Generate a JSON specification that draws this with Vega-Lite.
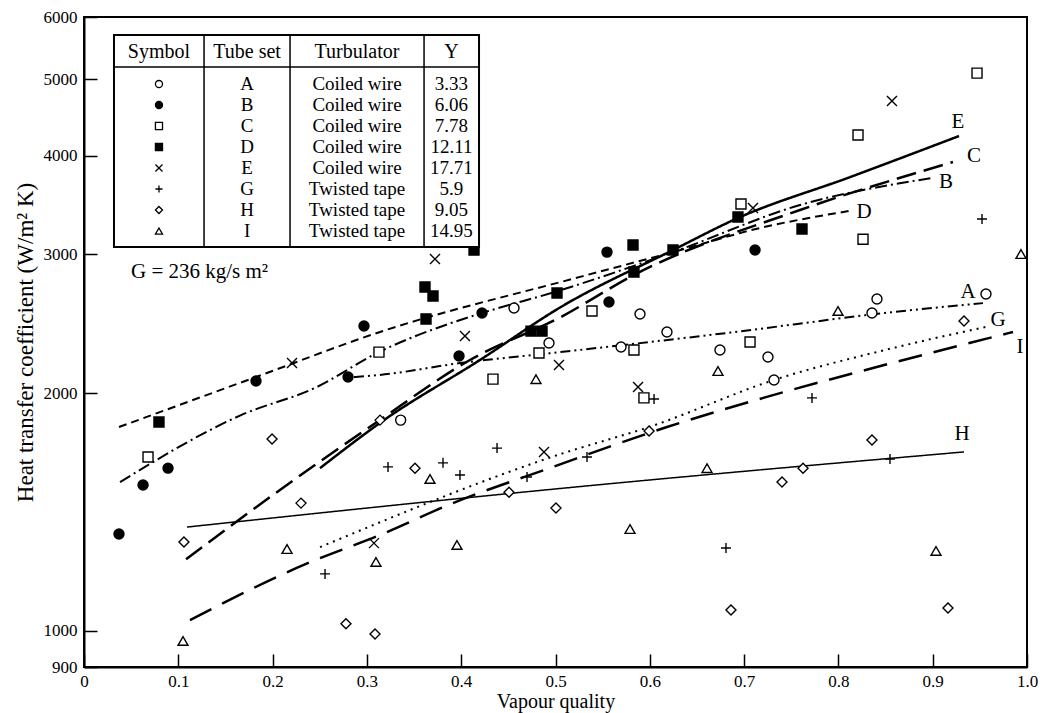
{
  "$schema": "https://vega.github.io/schema/vega-lite/v6.json",
  "width": 943,
  "height": 650,
  "autosize": {"type": "none"},
  "padding": {"left": 84, "top": 17, "right": 17, "bottom": 46},
  "background": "white",
  "config": {
    "view": {"stroke": "black", "strokeWidth": 2},
    "font": "Liberation Serif",
    "axis": {
      "domainColor": "black", "domainWidth": 2,
      "tickColor": "black", "tickWidth": 1.5,
      "labelColor": "black", "titleColor": "black",
      "labelFont": "Liberation Serif", "titleFont": "Liberation Serif",
      "titleFontWeight": "normal", "labelFontSize": 17, "titleFontSize": 22,
      "grid": false, "labelFlush": false, "labelOverlap": false
    },
    "text": {"font": "Liberation Serif", "color": "black"}
  },
  "datasets": {
    "points": [
      {"s":"A","x":0.3358,"y":1850},{"s":"A","x":0.456,"y":2566},{"s":"A","x":0.4931,"y":2317},{"s":"A","x":0.5695,"y":2290},{"s":"A","x":0.5896,"y":2522},{"s":"A","x":0.6182,"y":2393},{"s":"A","x":0.6744,"y":2270},{"s":"A","x":0.7253,"y":2224},{"s":"A","x":0.7317,"y":2080},{"s":"A","x":0.8356,"y":2529},{"s":"A","x":0.8409,"y":2634},{"s":"A","x":0.9565,"y":2673},
      {"s":"B","x":0.0371,"y":1327},{"s":"B","x":0.0626,"y":1531},{"s":"B","x":0.0891,"y":1608},{"s":"B","x":0.1824,"y":2074},{"s":"B","x":0.28,"y":2098},{"s":"B","x":0.2969,"y":2435},{"s":"B","x":0.3977,"y":2231},{"s":"B","x":0.4221,"y":2529},{"s":"B","x":0.5567,"y":2611},{"s":"B","x":0.5546,"y":3021},{"s":"B","x":0.7116,"y":3039},
      {"s":"C","x":0.0679,"y":1661},{"s":"C","x":0.3128,"y":2256},{"s":"C","x":0.4337,"y":2085},{"s":"C","x":0.4825,"y":2250},{"s":"C","x":0.5387,"y":2544},{"s":"C","x":0.5832,"y":2270},{"s":"C","x":0.5938,"y":1974},{"s":"C","x":0.7063,"y":2324},{"s":"C","x":0.6967,"y":3476},{"s":"C","x":0.8208,"y":4252},{"s":"C","x":0.8261,"y":3137},{"s":"C","x":0.947,"y":5094},
      {"s":"D","x":0.0795,"y":1840},{"s":"D","x":0.3616,"y":2728},{"s":"D","x":0.3701,"y":2658},{"s":"D","x":0.3627,"y":2485},{"s":"D","x":0.4136,"y":3039},{"s":"D","x":0.474,"y":2399},{"s":"D","x":0.4857,"y":2399},{"s":"D","x":0.5016,"y":2681},{"s":"D","x":0.5822,"y":3084},{"s":"D","x":0.5832,"y":2850},{"s":"D","x":0.6246,"y":3039},{"s":"D","x":0.6935,"y":3347},{"s":"D","x":0.7614,"y":3232},
      {"s":"E","x":0.2206,"y":2185},{"s":"E","x":0.3075,"y":1292},{"s":"E","x":0.3722,"y":2960},{"s":"E","x":0.404,"y":2365},{"s":"E","x":0.4878,"y":1686},{"s":"E","x":0.5037,"y":2173},{"s":"E","x":0.5875,"y":2038},{"s":"E","x":0.7094,"y":3435},{"s":"E","x":0.8568,"y":4695},
      {"s":"G","x":0.2556,"y":1181},{"s":"G","x":0.3224,"y":1614},{"s":"G","x":0.3807,"y":1633},{"s":"G","x":0.3987,"y":1576},{"s":"G","x":0.438,"y":1705},{"s":"G","x":0.4698,"y":1567},{"s":"G","x":0.5334,"y":1661},{"s":"G","x":0.6045,"y":1968},{"s":"G","x":0.6808,"y":1274},{"s":"G","x":0.772,"y":1974},{"s":"G","x":0.8547,"y":1651},{"s":"G","x":0.9523,"y":3328},
      {"s":"H","x":0.106,"y":1296},{"s":"H","x":0.1994,"y":1751},{"s":"H","x":0.2301,"y":1452},{"s":"H","x":0.2778,"y":1021},{"s":"H","x":0.3086,"y":991},{"s":"H","x":0.3139,"y":1850},{"s":"H","x":0.351,"y":1608},{"s":"H","x":0.4507,"y":1499},{"s":"H","x":0.5005,"y":1431},{"s":"H","x":0.5992,"y":1792},{"s":"H","x":0.6861,"y":1063},{"s":"H","x":0.7402,"y":1544},{"s":"H","x":0.7625,"y":1608},{"s":"H","x":0.8356,"y":1746},{"s":"H","x":0.9162,"y":1069},{"s":"H","x":0.9332,"y":2470},
      {"s":"I","x":0.105,"y":971},{"s":"I","x":0.2153,"y":1270},{"s":"I","x":0.3096,"y":1223},{"s":"I","x":0.3669,"y":1558},{"s":"I","x":0.3955,"y":1285},{"s":"I","x":0.4793,"y":2085},{"s":"I","x":0.579,"y":1346},{"s":"I","x":0.6607,"y":1608},{"s":"I","x":0.6723,"y":2135},{"s":"I","x":0.7996,"y":2544},{"s":"I","x":0.9035,"y":1263},{"s":"I","x":0.9936,"y":3004}
    ],
    "curves": [
      {"s":"A","x":0.2863,"y":2098},{"s":"A","x":0.3139,"y":2111},{"s":"A","x":0.3987,"y":2185},{"s":"A","x":0.5048,"y":2256},{"s":"A","x":0.6819,"y":2386},{"s":"A","x":0.8579,"y":2536},{"s":"A","x":0.9533,"y":2603},
      {"s":"B","x":0.0382,"y":1544},{"s":"B","x":0.1665,"y":1877},{"s":"B","x":0.2471,"y":2038},{"s":"B","x":0.3107,"y":2250},{"s":"B","x":0.3892,"y":2456},{"s":"B","x":0.4221,"y":2529},{"s":"B","x":0.5058,"y":2704},{"s":"B","x":0.6246,"y":3021},{"s":"B","x":0.7593,"y":3466},{"s":"B","x":0.8993,"y":3751},
      {"s":"C","x":0.1082,"y":1233},{"s":"C","x":0.2078,"y":1509},{"s":"C","x":0.3107,"y":1840},{"s":"C","x":0.4093,"y":2205},{"s":"C","x":0.5058,"y":2500},{"s":"C","x":0.5832,"y":2826},{"s":"C","x":0.7593,"y":3416},{"s":"C","x":0.9215,"y":3929},
      {"s":"D","x":0.0371,"y":1813},{"s":"D","x":0.1824,"y":2098},{"s":"D","x":0.3139,"y":2393},{"s":"D","x":0.526,"y":2810},{"s":"D","x":0.6246,"y":3021},{"s":"D","x":0.7169,"y":3241},{"s":"D","x":0.8112,"y":3406},
      {"s":"E","x":0.2503,"y":1608},{"s":"E","x":0.3181,"y":1850},{"s":"E","x":0.4199,"y":2205},{"s":"E","x":0.5058,"y":2574},{"s":"E","x":0.6246,"y":3039},{"s":"E","x":0.6935,"y":3337},{"s":"E","x":0.8123,"y":3760},{"s":"E","x":0.9279,"y":4239},
      {"s":"G","x":0.2503,"y":1277},{"s":"G","x":0.509,"y":1681},{"s":"G","x":0.5992,"y":1813},{"s":"G","x":0.7317,"y":2080},{"s":"G","x":0.8579,"y":2283},{"s":"G","x":0.9608,"y":2435},
      {"s":"H","x":0.1092,"y":1354},{"s":"H","x":0.509,"y":1517},{"s":"H","x":0.9332,"y":1686},
      {"s":"I","x":0.1124,"y":1032},{"s":"I","x":0.2354,"y":1216},{"s":"I","x":0.3139,"y":1323},{"s":"I","x":0.3913,"y":1452},{"s":"I","x":0.4973,"y":1614},{"s":"I","x":0.6182,"y":1813},{"s":"I","x":0.7306,"y":1990},{"s":"I","x":0.8367,"y":2154},{"s":"I","x":0.9852,"y":2393}
    ],
    "curveLabels": [
      {"s":"E","x":0.9268,"y":4414},{"s":"C","x":0.9438,"y":3998},{"s":"B","x":0.9141,"y":3707},{"s":"D","x":0.8271,"y":3396},
      {"s":"A","x":0.9374,"y":2688},{"s":"G","x":0.9692,"y":2478},{"s":"I","x":0.9926,"y":2290},{"s":"H","x":0.9311,"y":1777}
    ],
    "table": [
      {"s":"A","tube":"A","turb":"Coiled wire","yv":"3.33","ty":4934},
      {"s":"B","tube":"B","turb":"Coiled wire","yv":"6.06","ty":4641},
      {"s":"C","tube":"C","turb":"Coiled wire","yv":"7.78","ty":4365},
      {"s":"D","tube":"D","turb":"Coiled wire","yv":"12.11","ty":4105},
      {"s":"E","tube":"E","turb":"Coiled wire","yv":"17.71","ty":3861},
      {"s":"G","tube":"G","turb":"Twisted tape","yv":"5.9","ty":3632},
      {"s":"H","tube":"H","turb":"Twisted tape","yv":"9.05","ty":3416},
      {"s":"I","tube":"I","turb":"Twisted tape","yv":"14.95","ty":3212}
    ],
    "header": [
      {"h":"Symbol","hx":0.0795},{"h":"Tube set","hx":0.1729},{"h":"Turbulator","hx":0.2895},{"h":"Y","hx":0.3897}
    ],
    "dividers": [{"dx":0.1273},{"dx":0.2185},{"dx":0.3606}]
  },
  "layer": [
    {
      "data": {"name": "curves"},
      "transform": [{"filter": "datum.s == 'C' || datum.s == 'E' || datum.s == 'I'"}],
      "mark": {"type": "line", "interpolate": "monotone", "strokeWidth": 2.5, "color": "black"},
      "encoding": {
        "x": {"field": "x", "type": "quantitative", "scale": {"domain": [0, 1], "nice": false, "zero": false},
              "axis": {"values": [0,0.1,0.2,0.3,0.4,0.5,0.6,0.7,0.8,0.9,1.0], "labelExpr": "datum.value == 0 ? '0' : format(datum.value, '.1f')", "title": "Vapour quality", "titleFontSize": 20, "tickSize": -13, "labelPadding": 19, "titlePadding": 2}},
        "y": {"field": "y", "type": "quantitative", "scale": {"type": "log", "domain": [900, 6000], "nice": false},
              "axis": {"values": [900,1000,2000,3000,4000,5000,6000], "format": "d", "title": "Heat transfer coefficient (W/m² K)", "titleFontSize": 23, "tickSize": -13, "labelPadding": 20, "titlePadding": 6}},
        "detail": {"field": "s"},
        "strokeDash": {"field": "s", "type": "nominal", "legend": null,
          "scale": {"domain": ["A","B","C","D","E","G","H","I"], "range": [[10,4,2,4,2,4],[12,4,2,4],[20,8],[8,5],[1,0],[2,5],[1,0],[24,12]]}}
      }
    },
    {
      "data": {"name": "curves"},
      "transform": [{"filter": "datum.s == 'A' || datum.s == 'B' || datum.s == 'D' || datum.s == 'G'"}],
      "mark": {"type": "line", "interpolate": "monotone", "strokeWidth": 2, "color": "black"},
      "encoding": {
        "x": {"field": "x", "type": "quantitative"},
        "y": {"field": "y", "type": "quantitative"},
        "detail": {"field": "s"},
        "strokeDash": {"field": "s", "type": "nominal", "legend": null}
      }
    },
    {
      "data": {"name": "curves"},
      "transform": [{"filter": "datum.s == 'H'"}],
      "mark": {"type": "line", "interpolate": "monotone", "strokeWidth": 1.5, "color": "black"},
      "encoding": {
        "x": {"field": "x", "type": "quantitative"},
        "y": {"field": "y", "type": "quantitative"},
        "detail": {"field": "s"},
        "strokeDash": {"field": "s", "type": "nominal", "legend": null}
      }
    },
    {
      "data": {"name": "points"},
      "mark": {"type": "point", "stroke": "black", "strokeWidth": 1.4, "opacity": 1, "size": 100},
      "encoding": {
        "x": {"field": "x", "type": "quantitative"},
        "y": {"field": "y", "type": "quantitative"},
        "shape": {"field": "s", "type": "nominal", "legend": null,
          "scale": {"domain": ["A","B","C","D","E","G","H","I"], "range": ["circle","circle","square","square","M-1,-1L1,1M-1,1L1,-1","M-1,0L1,0M0,-1L0,1","diamond","triangle-up"]}},
        "fill": {"field": "s", "type": "nominal", "legend": null,
          "scale": {"domain": ["A","B","C","D","E","G","H","I"], "range": ["white","black","white","black","white","white","white","white"]}}
      }
    },
    {
      "data": {"name": "curveLabels"},
      "mark": {"type": "text", "fontSize": 21, "align": "center", "baseline": "middle"},
      "encoding": {
        "x": {"field": "x", "type": "quantitative"},
        "y": {"field": "y", "type": "quantitative"},
        "text": {"field": "s"}
      }
    },
    {
      "data": {"values": [{}]},
      "mark": {"type": "rect", "fill": "white", "stroke": "black", "strokeWidth": 2},
      "encoding": {
        "x": {"datum": 0.0318, "type": "quantitative"},
        "x2": {"datum": 0.4189},
        "y": {"datum": 5692, "type": "quantitative"},
        "y2": {"datum": 3066}
      }
    },
    {
      "data": {"values": [{}]},
      "mark": {"type": "rule", "stroke": "black", "strokeWidth": 1.5},
      "encoding": {
        "x": {"datum": 0.0318, "type": "quantitative"},
        "x2": {"datum": 0.4189},
        "y": {"datum": 5184, "type": "quantitative"}
      }
    },
    {
      "data": {"name": "dividers"},
      "mark": {"type": "rule", "stroke": "black", "strokeWidth": 1.5},
      "encoding": {
        "x": {"field": "dx", "type": "quantitative"},
        "y": {"datum": 5692, "type": "quantitative"},
        "y2": {"datum": 3066}
      }
    },
    {
      "data": {"name": "header"},
      "mark": {"type": "text", "fontSize": 20, "align": "center", "baseline": "middle"},
      "encoding": {
        "x": {"field": "hx", "type": "quantitative"},
        "y": {"datum": 5416, "type": "quantitative"},
        "text": {"field": "h"}
      }
    },
    {
      "data": {"name": "table"},
      "mark": {"type": "point", "stroke": "black", "strokeWidth": 1.3, "opacity": 1, "size": 50},
      "encoding": {
        "x": {"datum": 0.0795, "type": "quantitative"},
        "y": {"field": "ty", "type": "quantitative"},
        "shape": {"field": "s", "type": "nominal", "legend": null},
        "fill": {"field": "s", "type": "nominal", "legend": null}
      }
    },
    {
      "data": {"name": "table"},
      "mark": {"type": "text", "fontSize": 19, "align": "center", "baseline": "middle"},
      "encoding": {
        "x": {"datum": 0.1729, "type": "quantitative"},
        "y": {"field": "ty", "type": "quantitative"},
        "text": {"field": "tube"}
      }
    },
    {
      "data": {"name": "table"},
      "mark": {"type": "text", "fontSize": 19, "align": "center", "baseline": "middle"},
      "encoding": {
        "x": {"datum": 0.2895, "type": "quantitative"},
        "y": {"field": "ty", "type": "quantitative"},
        "text": {"field": "turb"}
      }
    },
    {
      "data": {"name": "table"},
      "mark": {"type": "text", "fontSize": 19, "align": "center", "baseline": "middle"},
      "encoding": {
        "x": {"datum": 0.3897, "type": "quantitative"},
        "y": {"field": "ty", "type": "quantitative"},
        "text": {"field": "yv"}
      }
    },
    {
      "data": {"values": [{"t": "G = 236 kg/s m²"}]},
      "mark": {"type": "text", "fontSize": 21, "align": "left", "baseline": "middle"},
      "encoding": {
        "x": {"datum": 0.0498, "type": "quantitative"},
        "y": {"datum": 2849, "type": "quantitative"},
        "text": {"field": "t"}
      }
    }
  ]
}
